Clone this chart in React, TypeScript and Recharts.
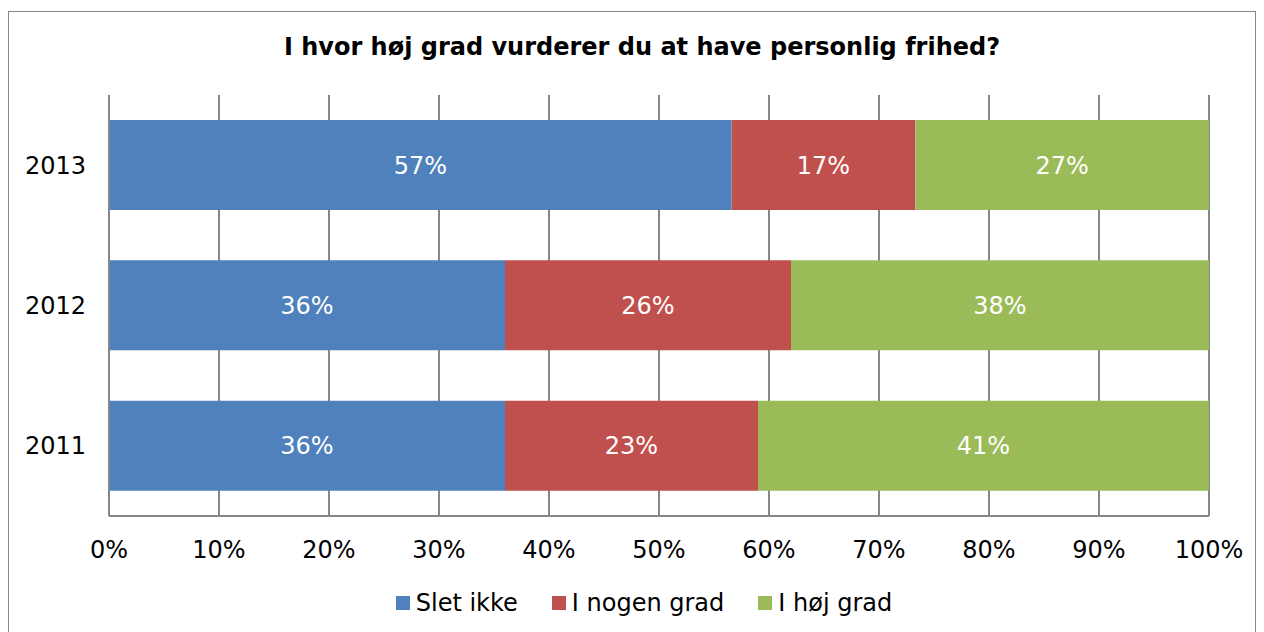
import React from 'react';
import { BarChart, Bar, XAxis, YAxis, CartesianGrid, LabelList } from 'recharts';

// Survey data, share of respondents in percent
const years = ['2013', '2012', '2011'];
const sletIkke = [56.6, 36, 36];
const iNogenGrad = [16.7, 26, 23];
const iHojGrad = [26.7, 38, 41];
const xTicks = [0, 10, 20, 30, 40, 50, 60, 70, 80, 90, 100];

const series = [
    { key: 'sletIkke', name: 'Slet ikke', color: '#4F81BD' },
    { key: 'iNogenGrad', name: 'I nogen grad', color: '#C0504D' },
    { key: 'iHojGrad', name: 'I høj grad', color: '#9BBB59' },
];

const data = years.map((year, i) => ({
    year,
    sletIkke: sletIkke[i],
    iNogenGrad: iNogenGrad[i],
    iHojGrad: iHojGrad[i],
}));

const FONT = '"DejaVu Sans", Verdana, sans-serif';
const GRAY = '#868686';

export default function App() {
    return (
        <div
            style={{
                position: 'relative',
                marginTop: 3,
                width: 1246,
                height: 630,
                border: `1px solid ${GRAY}`,
                background: '#fff',
                fontFamily: FONT,
            }}
        >
            <div
                style={{
                    position: 'absolute',
                    top: 22,
                    left: 0,
                    width: 1266,
                    textAlign: 'center',
                    fontSize: 24,
                    fontWeight: 'bold',
                    lineHeight: '26px',
                    color: '#000',
                }}
            >
                I hvor høj grad vurderer du at have personlig frihed?
            </div>

            <BarChart
                width={1246}
                height={560}
                data={data}
                layout="vertical"
                margin={{ top: 83, right: 46, left: 0, bottom: 0 }}
                barCategoryGap={0}
            >
                <CartesianGrid horizontal={false} stroke={GRAY} strokeWidth={2} />
                <XAxis
                    type="number"
                    domain={[0, 100]}
                    ticks={xTicks}
                    tickFormatter={(v) => `${v}%`}
                    axisLine={{ stroke: GRAY, strokeWidth: 2 }}
                    tickLine={false}
                    tickMargin={19}
                    height={56}
                    interval={0}
                    tick={{ fontSize: 24, fill: '#000', fontFamily: FONT }}
                />
                <YAxis
                    type="category"
                    dataKey="year"
                    width={100}
                    axisLine={{ stroke: GRAY, strokeWidth: 2 }}
                    tickLine={false}
                    tickMargin={17}
                    tick={{ fontSize: 24, fill: '#000', fontFamily: FONT }}
                />
                {series.map((s) => (
                    <Bar
                        key={s.key}
                        dataKey={s.key}
                        name={s.name}
                        stackId="a"
                        fill={s.color}
                        barSize={90}
                        isAnimationActive={false}
                    >
                        <LabelList
                            dataKey={s.key}
                            position="center"
                            formatter={(v: any) => `${Math.round(v)}%`}
                            style={{ fill: '#fff', fontSize: 24, fontFamily: FONT }}
                        />
                    </Bar>
                ))}
            </BarChart>

            {/* Legend */}
            <div
                style={{
                    position: 'absolute',
                    top: 577,
                    left: 0,
                    width: 1246,
                    paddingLeft: 24,
                    boxSizing: 'border-box',
                    display: 'flex',
                    justifyContent: 'center',
                    alignItems: 'center',
                    fontSize: 24,
                    color: '#000',
                }}
            >
                {series.map((s, i) => (
                    <div
                        key={s.key}
                        style={{ display: 'flex', alignItems: 'center', marginLeft: i === 0 ? 0 : 34 }}
                    >
                        <span style={{ display: 'inline-block', width: 14, height: 14, background: s.color, marginRight: 6 }} />
                        <span>{s.name}</span>
                    </div>
                ))}
            </div>
        </div>
    );
}
